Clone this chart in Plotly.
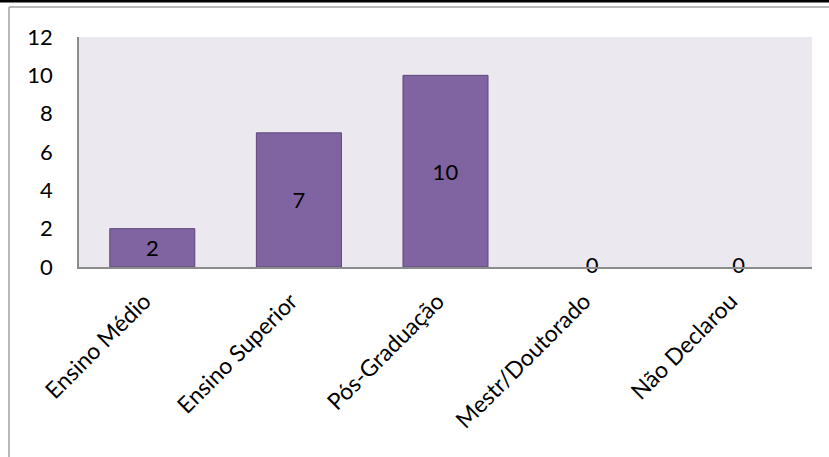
import plotly.graph_objects as go

categories = ["Ensino Médio", "Ensino Superior", "Pós-Graduação", "Mestr/Doutorado", "Não Declarou"]
values = [2, 7, 10, 0, 0]
y_ticks = [0, 2, 4, 6, 8, 10, 12]

W, H = 829, 457
L, R, T, B = 79, 17, 37, 190
pw, ph = W - L - R, H - T - B

def px_x(p):
    return (p - L) / pw

def px_y(p):
    return (H - B - p) / ph

FONT = "Lato, 'Open Sans', sans-serif"

fig = go.Figure()
fig.add_trace(go.Bar(
    x=categories, y=values,
    marker=dict(color="#8064A2",
                line=dict(color="#5C4776", width=[1 if v else 0 for v in values])),
    width=0.58,
    text=[str(v) if v != 0 else "" for v in values],
    textposition="inside", insidetextanchor="middle",
    textfont=dict(color="black", size=22, family=FONT),
    hoverinfo="skip",
))
zero_x = [c for c, v in zip(categories, values) if v == 0]
zero_y = [v for v in values if v == 0]
fig.add_trace(go.Scatter(
    x=zero_x, y=zero_y, mode="text",
    text=[str(v) for v in zero_y], textposition="middle center",
    textfont=dict(color="black", size=22, family=FONT),
    hoverinfo="skip", cliponaxis=False,
))

fig.update_layout(
    width=W, height=H,
    margin=dict(l=L, r=R, t=T, b=B),
    paper_bgcolor="white", plot_bgcolor="#EBE9EF",
    showlegend=False, bargap=0.42,
    font=dict(family=FONT, size=22, color="black"),
    xaxis=dict(tickangle=-45, showline=True, linecolor="#8C8C8C", linewidth=1.5,
               ticks="", showgrid=False, tickfont=dict(size=23), fixedrange=True,
               ticklabelstandoff=10, ticklabelshift=-8),
    yaxis=dict(range=[0, 12], tickvals=y_ticks, showline=True, linecolor="#8C8C8C",
               linewidth=1.5, showgrid=False, zeroline=False, ticks="",
               ticklabelstandoff=20, tickfont=dict(size=22), fixedrange=True),
    shapes=[
        dict(type="line", xref="paper", yref="paper", x0=px_x(0), x1=px_x(W),
             y0=px_y(1), y1=px_y(1), line=dict(color="black", width=3)),
        dict(type="line", xref="paper", yref="paper", x0=px_x(9), x1=px_x(W),
             y0=px_y(7), y1=px_y(7), line=dict(color="#A0A0A0", width=1.5)),
        dict(type="line", xref="paper", yref="paper", x0=px_x(9), x1=px_x(9),
             y0=px_y(7), y1=px_y(H), line=dict(color="#A0A0A0", width=1.5)),
    ],
)

fig.write_html("out.html", config={"displayModeBar": False},
               post_script="document.body.style.margin='0';document.body.style.overflow='hidden';")
